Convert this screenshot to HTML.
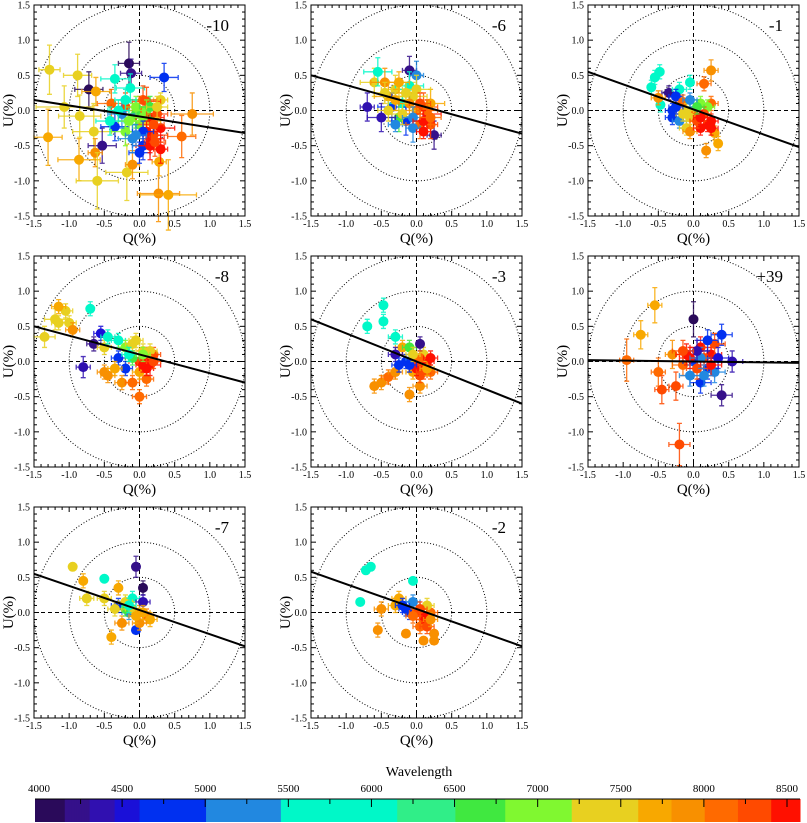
<!DOCTYPE html>
<html><head><meta charset="utf-8"><style>
body{margin:0;background:#fff}
svg{display:block;font-family:"Liberation Serif",serif}
</style></head><body>
<svg id="c" width="807" height="823"></svg>
<script>
const NS="http://www.w3.org/2000/svg";
const svg=document.getElementById('c');
// data per panel: [q,u,eq,eu,wavelength]
const labels=["-10","-6","-1","-8","-3","+39","-7","-2"];
const lines=[[0.15,-0.32],[0.5,-0.33],[0.55,-0.52],[0.5,-0.3],[0.6,-0.6],[0.02,-0.02],[0.55,-0.48],[0.58,-0.48]];
const p1=[[-1.28,0.58,.15,.35,7400],[-0.88,0.5,.2,.3,7400],[-0.72,0.3,.2,.25,4100],[-0.62,0.27,.2,.2,7600],[-1.07,0.05,.4,.3,7400],[-0.85,-0.08,.3,.3,7300],[-1.3,-0.38,.2,.4,7600],[-0.65,-0.3,.3,.4,7500],[-0.53,-0.5,.2,.25,4200],[-0.63,-0.6,.1,.2,7900],[-0.86,-0.7,.3,.3,7700],[-0.6,-1.0,.3,.4,7500],[-0.18,-0.88,.3,.4,7500],[-0.1,-0.77,.1,.2,7800],[0.27,-1.18,.3,.4,7800],[0.41,-1.2,.4,.5,7600],[0.28,-0.73,.1,.2,7700],[0.6,-0.37,.2,.3,8100],[0.75,-0.05,.3,.3,7800],[0.35,0.47,.2,.2,4700],[-0.15,0.67,.15,.3,4100],[-0.12,0.53,.15,.2,4200],[-0.35,0.45,.2,.2,5800],[-0.13,0.32,.2,.2,5900],[0.3,0.15,.1,.1,7300],[0.05,0.15,.2,.2,8300],[0.1,0.13,.2,.2,8300],[-0.4,0.1,.2,.2,8100],[-0.2,0.05,.2,.2,8200],[-0.35,-0.23,.2,.2,4700],[-0.42,-0.15,.2,.2,5800],[-0.1,-0.1,.2,.2,7000],[0.0,-0.2,.2,.2,6800],[-0.2,-0.3,.2,.2,6900],[0.05,-0.5,.15,.2,4800],[0,-0.6,.15,.15,4900],[0.15,-0.4,.2,.2,8400],[0.2,-0.35,.2,.2,8300],[0.3,-0.25,.2,.2,8400],[0.3,-0.55,.1,.2,8400],[0.15,-0.5,.2,.2,8500],[0.22,-0.45,.15,.2,8300],[0.0,0.0,.2,.2,8000],[0.1,-0.15,.2,.2,7200],[-0.05,-0.05,.2,.2,6600],[0.15,-0.1,.2,.2,8400],[-0.25,-0.05,.2,.2,5200],[-0.1,-0.4,.2,.2,5300],[0.05,-0.1,.15,.15,6900],[0.1,0.0,.15,.15,7000],[-0.05,0.05,.15,.15,6800],[0.15,0.05,.15,.15,6700],[0.2,-0.2,.15,.15,8300],[0.1,-0.3,.15,.15,8400],[-0.15,-0.15,.15,.15,7100],[0.05,-0.3,.15,.15,4900],[-0.05,-0.35,.15,.15,5200],[0.25,-0.05,.15,.15,8200],[-0.3,0.0,.15,.15,6000],[-0.2,0.15,.15,.15,6100],[0.25,0.05,.15,.15,7200]];
const p2=[[-0.7,0.05,.1,.2,4300],[-0.6,0.4,.2,.2,7400],[-0.55,0.55,.2,.2,5800],[-0.1,0.57,.1,.2,4200],[0.0,0.5,.1,.2,5000],[0.25,-0.35,.1,.2,4200],[0.2,-0.2,.1,.2,8300],[-0.3,0.3,.2,.2,7500],[-0.4,0.2,.2,.2,7600],[-0.35,0.05,.2,.2,4600],[-0.2,0.1,.2,.2,5900],[-0.15,-0.15,.2,.2,4800],[0,0,.2,.2,7800],[0.1,0.05,.2,.2,8200],[0.15,-0.05,.2,.2,8400],[-0.05,0.2,.2,.2,7300],[-0.25,-0.1,.2,.2,6600],[0.05,-0.2,.2,.2,8000],[-0.1,0.35,.2,.2,5600],[-0.45,0.4,.2,.2,7900],[-0.05,-0.25,.1,.2,5200],[0.2,0.1,.2,.2,7700],[-0.3,-0.2,.1,.1,5000],[0.1,-0.3,.1,.1,8500],[-0.5,-0.1,.2,.2,4400],[0.0,0.3,.2,.2,7200],[-0.4,0.0,.15,.15,7400],[-0.3,0.15,.15,.15,7700],[-0.2,-0.05,.15,.15,7500],[-0.1,0.1,.15,.15,7900],[0.05,0.1,.15,.15,8300],[0.15,0.0,.15,.15,8100],[-0.15,0.25,.15,.15,7300],[-0.25,0.4,.15,.15,7600],[-0.05,-0.1,.15,.15,5100],[0.1,-0.15,.15,.15,8400],[-0.45,0.25,.15,.15,7400],[0.2,-0.1,.15,.15,8000]];
const p3=[[-0.48,0.55,.05,.1,5800],[-0.55,0.47,.05,.1,5900],[-0.6,0.33,.05,.1,5800],[-0.47,0.08,.05,.1,5700],[-0.35,0.25,.1,.1,4200],[-0.05,0.4,.05,.1,5800],[-0.2,0.3,.1,.1,5600],[-0.25,0.2,.1,.1,4800],[-0.5,0.18,.1,.1,7900],[0.25,0.57,.1,.15,7900],[0.15,0.38,.1,.1,8000],[0.25,0.1,.1,.1,8100],[-0.3,-0.1,.1,.1,4900],[-0.3,0.0,.1,.1,4800],[-0.2,-0.15,.1,.1,5200],[-0.1,-0.25,.1,.1,7500],[-0.05,-0.3,.1,.1,7800],[0.1,-0.25,.1,.1,8400],[0.2,-0.2,.1,.1,8500],[0.25,-0.15,.1,.1,8400],[0.3,-0.32,.05,.1,7600],[0.35,-0.47,.05,.1,7700],[0.18,-0.57,.05,.1,7900],[0.1,0.1,.1,.1,6800],[0.2,0.05,.1,.1,7000],[0.0,-0.05,.1,.1,8000],[-0.15,0.12,.1,.1,8100],[0.15,-0.05,.1,.1,8300],[-0.05,-0.1,.1,.1,7300],[-0.1,0.0,.1,.1,7400],[0.05,-0.15,.1,.1,8300],[-0.15,-0.05,.1,.1,7200],[0.1,-0.1,.1,.1,8500],[0.25,-0.25,.1,.1,8400],[-0.25,0.05,.1,.1,4600],[0.05,0.05,.1,.1,6600],[-0.05,0.15,.1,.1,5100]];
const p4=[[-1.35,0.35,.15,.15,7300],[-1.2,0.6,.15,.15,7500],[-1.15,0.55,.1,.1,7400],[-1.0,0.55,.1,.1,7300],[-1.05,0.72,.1,.1,7500],[-0.95,0.45,.1,.1,7800],[-1.15,0.78,.1,.1,7600],[-0.7,0.75,.05,.1,5800],[-0.65,0.25,.1,.1,4200],[-0.8,-0.08,.1,.15,4300],[-0.55,0.4,.1,.1,4500],[-0.5,0.2,.1,.1,7400],[-0.45,0.35,.1,.1,5900],[-0.3,0.3,.1,.1,5700],[-0.2,0.2,.1,.1,6900],[-0.1,0.25,.1,.1,7300],[-0.3,0.05,.1,.1,4800],[-0.2,-0.1,.1,.1,4900],[-0.45,-0.2,.1,.1,7800],[-0.5,-0.15,.1,.1,7900],[-0.25,-0.3,.1,.1,7800],[-0.1,-0.3,.1,.1,8000],[0.0,-0.5,.1,.1,8000],[0.1,-0.25,.1,.1,8100],[0.0,0.0,.15,.15,8300],[0.1,0.05,.15,.15,8500],[0.15,-0.05,.15,.15,8400],[0.2,0.1,.1,.1,8200],[0.05,0.15,.1,.1,7400],[-0.1,0.05,.1,.1,6600],[0.0,-0.15,.1,.1,7700],[0.05,-0.05,.1,.1,8400],[0.1,-0.1,.1,.1,8500],[0.15,0.15,.1,.1,7300],[-0.05,0.3,.1,.1,7200],[-0.15,0.1,.1,.1,6000],[0.05,0.1,.1,.1,6800],[-0.35,-0.1,.1,.1,7700],[0.2,0.0,.1,.1,8300]];
const p5=[[-0.47,0.8,.05,.1,5800],[-0.47,0.57,.05,.1,5800],[-0.7,0.5,.05,.1,5800],[-0.3,0.35,.1,.1,5600],[-0.2,0.2,.1,.1,7700],[-0.6,-0.35,.05,.1,7900],[-0.5,-0.3,.1,.1,7800],[-0.4,-0.22,.1,.1,8000],[-0.3,-0.15,.1,.1,7900],[-0.1,-0.47,.05,.1,7800],[0.05,-0.35,.1,.1,7900],[-0.3,0.1,.1,.1,4400],[-0.15,0.0,.1,.1,4800],[-0.25,-0.05,.1,.1,4900],[-0.05,0.05,.1,.1,5100],[0,0,.1,.1,8200],[0.1,-0.05,.1,.1,8400],[0.15,0.0,.1,.1,8500],[0.05,-0.2,.1,.1,8300],[0.1,0.1,.1,.1,7500],[-0.1,0.2,.1,.1,6500],[0.2,-0.15,.1,.1,8100],[-0.05,-0.15,.1,.1,7600],[0.05,0.25,.05,.1,4200],[0.0,-0.1,.1,.1,8400],[0.1,-0.15,.1,.1,8300],[0.05,0.05,.1,.1,8100],[-0.1,-0.05,.1,.1,4700],[0.15,-0.1,.1,.1,7600],[-0.05,0.1,.1,.1,7300],[0.2,0.05,.1,.1,8500]];
const p6=[[0,0.6,.05,.25,4100],[0.4,-0.48,.15,.15,4200],[0.4,0.38,.15,.15,4600],[0.55,0.0,.15,.15,4400],[-0.55,0.8,.1,.25,7600],[-0.75,0.38,.1,.2,7700],[-0.95,0.02,.1,.3,8000],[-0.5,-0.15,.1,.2,8000],[-0.45,-0.4,.1,.2,8200],[-0.25,-0.35,.1,.2,8300],[-0.2,-1.18,.15,.3,8300],[-0.3,0.1,.1,.2,7900],[-0.15,-0.05,.15,.15,8100],[0.1,0.2,.15,.15,8400],[0.25,0.1,.15,.15,8500],[0.2,-0.1,.15,.15,4900],[0.3,-0.15,.15,.15,5100],[0.1,-0.3,.15,.15,4700],[0.3,0.25,.15,.15,8300],[0,0,.15,.15,4600],[-0.1,0.1,.15,.15,8400],[0.15,0.05,.15,.15,8200],[-0.05,-0.2,.15,.15,5000],[0.35,0.05,.15,.15,4500],[0.2,0.3,.15,.15,4700],[0.05,-0.1,.15,.15,8300],[-0.05,0.05,.15,.15,8500],[0.1,0.05,.15,.15,5000],[0.25,-0.05,.15,.15,8400],[0.05,0.15,.15,.15,4400],[-0.15,0.15,.15,.15,8200],[0.15,-0.2,.15,.15,5200]];
const p7=[[-0.95,0.65,.05,.05,7500],[-0.8,0.45,.05,.1,7600],[-0.75,0.2,.1,.1,7400],[-0.5,0.48,.05,.05,5800],[-0.05,0.65,.05,.15,4200],[0.05,0.35,.05,.1,4100],[-0.3,0.35,.05,.1,7700],[-0.4,-0.35,.05,.1,7700],[-0.25,-0.15,.1,.1,7800],[-0.05,-0.25,.05,.05,4900],[-0.3,0.1,.1,.1,4700],[-0.15,0.0,.1,.1,5100],[-0.1,0.2,.1,.1,5800],[0,0,.1,.1,7800],[0.1,-0.05,.1,.1,8100],[0.15,-0.1,.1,.1,7600],[-0.5,0.2,.1,.1,7500],[-0.2,0.05,.1,.1,6600],[0.0,-0.15,.1,.1,7900],[0.05,0.15,.1,.1,4300],[-0.1,0.05,.1,.1,7400],[-0.2,0.15,.1,.1,7300],[0.05,0.0,.1,.1,7600],[-0.05,-0.05,.1,.1,7700],[-0.35,0.05,.1,.1,7500],[-0.15,0.1,.1,.1,5900]];
const p8=[[-0.65,0.65,.05,.05,5800],[-0.72,0.6,.05,.05,5800],[-0.8,0.15,.05,.05,5800],[-0.55,-0.25,.05,.1,7800],[-0.5,0.05,.1,.1,7800],[-0.25,0.2,.1,.1,7600],[-0.05,0.45,.05,.05,5800],[-0.15,0.05,.1,.1,4700],[-0.1,0.0,.1,.1,4800],[-0.3,0.1,.1,.1,7700],[0,0,.1,.1,8300],[0.1,-0.1,.1,.1,8200],[0.2,0.0,.1,.1,8000],[0.25,-0.3,.05,.05,7900],[-0.15,-0.3,.05,.05,7800],[0.1,-0.4,.05,.05,7900],[0.25,-0.4,.05,.05,7800],[0.15,0.1,.1,.1,7500],[-0.05,0.15,.1,.1,5200],[0.05,-0.2,.1,.1,8100],[0.1,-0.05,.1,.1,8400],[0.05,0.05,.1,.1,8300],[-0.05,-0.05,.1,.1,8000],[0.15,-0.2,.1,.1,8300],[-0.2,0.1,.1,.1,4600],[0.2,-0.1,.1,.1,7900]];
const panels=[p1,p2,p3,p4,p5,p6,p7,p8];
const cbTicks=[4000,4500,5000,5500,6000,6500,7000,7500,8000,8500];
const stops=[[4000,"#2a0a5a"],[4150,"#35108a"],[4300,"#3010b0"],[4450,"#1a10d8"],[4600,"#0030f0"],[5000,"#2288e0"],[5450,"#00f8c8"],[6150,"#30ee88"],[6500,"#40e840"],[6800,"#80f830"],[7200,"#e8d020"],[7600,"#f8a800"],[7800,"#f89000"],[8000,"#ff6a00"],[8200,"#ff4a00"],[8400,"#ff1000"],[9000,"#ff1000"]];
function col(w){let c=stops[0][1];for(const s of stops){if(w>=s[0])c=s[1];}return c;}
function el(t,a,p){const e=document.createElementNS(NS,t);for(const k in a)e.setAttribute(k,a[k]);(p||svg).appendChild(e);return e;}
const lefts=[34,311,588],tops=[5,256,507],W=211,H=211;
panels.forEach((pts,i)=>{
 const L=lefts[i%3],T=tops[Math.floor(i/3)];
 const X=v=>L+(v+1.5)/3*W, Y=v=>T+(1.5-v)/3*H;
 const g=el('g',{});
 
 
 [0.5,1,1.5].forEach(r=>{const c=el('ellipse',{cx:X(0),cy:Y(0),rx:r/3*W,ry:r/3*H,fill:'none',stroke:'#000','stroke-width':1,'stroke-dasharray':'1,2'},g);});
 el('line',{x1:X(-1.5),x2:X(1.5),y1:Y(0),y2:Y(0),stroke:'#000','stroke-dasharray':'4,3'},g);
 el('line',{x1:X(0),x2:X(0),y1:Y(1.5),y2:Y(-1.5),stroke:'#000','stroke-dasharray':'4,3'},g);
 pts.forEach(p=>{
  const c=col(p[4]);
  const m=el('g',{},g);
  
  
  const x=X(p[0]),y=Y(p[1]),x1=X(p[0]-p[2]),x2=X(p[0]+p[2]),y1=Y(p[1]+p[3]),y2=Y(p[1]-p[3]);
  el('path',{d:`M${x1},${y}H${x2}M${x},${y1}V${y2}M${x1},${y-2.5}v5M${x2},${y-2.5}v5M${x-2.5},${y1}h5M${x-2.5},${y2}h5`,stroke:c,'stroke-width':1.3,opacity:0.85,fill:'none'},m);
  el('circle',{cx:x,cy:y,r:5,fill:c},m);
 });
 const ln=lines[i];
 const fl=el('line',{x1:X(-1.5),y1:Y(ln[0]),x2:X(1.5),y2:Y(ln[1]),stroke:'#000','stroke-width':2},g);
 
 el('rect',{x:L,y:T,width:W,height:H,fill:'none',stroke:'#000','stroke-width':1},g);
 for(let k=-15;k<=15;k++){const v=k/10,len=(k%5===0)?5:3;
  el('line',{x1:X(v),x2:X(v),y1:T+H,y2:T+H-len,stroke:'#000'},g);
  el('line',{x1:X(v),x2:X(v),y1:T,y2:T+len,stroke:'#000'},g);
  el('line',{y1:Y(v),y2:Y(v),x1:L,x2:L+len,stroke:'#000'},g);
  el('line',{y1:Y(v),y2:Y(v),x1:L+W,x2:L+W-len,stroke:'#000'},g);
  if(k%5===0){const s=v.toFixed(1);
   const tx=el('text',{x:X(v),y:T+H+11,'font-size':10,'text-anchor':'middle'},g);tx.textContent=s;
   const ty=el('text',{x:L-4,y:Y(v)+3.5,'font-size':10,'text-anchor':'end'},g);ty.textContent=s;}
 }
 const xl=el('text',{x:L+W/2,y:T+H+27,'font-size':15,'text-anchor':'middle'},g);xl.textContent='Q(%)';
 
 const yl=el('text',{x:0,y:0,'font-size':15,'text-anchor':'middle',transform:`translate(${L-21},${T+H/2}) rotate(-90)`},g);yl.textContent='U(%)';
 
 const pl=el('text',{x:L+W-16,y:T+26,'font-size':17,'text-anchor':'end'},g);pl.textContent=labels[i];
 
});
// colorbar
const cb=el('g',{});


const CX=w=>39+(w-4000)*(787-39)/4500;
for(let w=3975;w<8650;w+=10){const x0=Math.max(35,CX(w)),x1=Math.min(800,CX(w+10));if(x1>x0)el('rect',{x:x0,y:799,width:x1-x0+0.5,height:23,fill:col(w)},cb);}
el('line',{x1:35,x2:800,y1:799,y2:799,stroke:'#000'},cb);
for(let w=4250;w<=8500;w+=250){el('line',{x1:CX(w),x2:CX(w),y1:799,y2:w%500===0?807:804,stroke:'#000'},cb);}
cbTicks.forEach(w=>{const t=el('text',{x:CX(w),y:792,'font-size':11,'text-anchor':'middle'},cb);t.textContent=w;});
const ct=el('text',{x:419,y:776,'font-size':14,'text-anchor':'middle'},cb);ct.textContent='Wavelength';

</script>
</body></html>
